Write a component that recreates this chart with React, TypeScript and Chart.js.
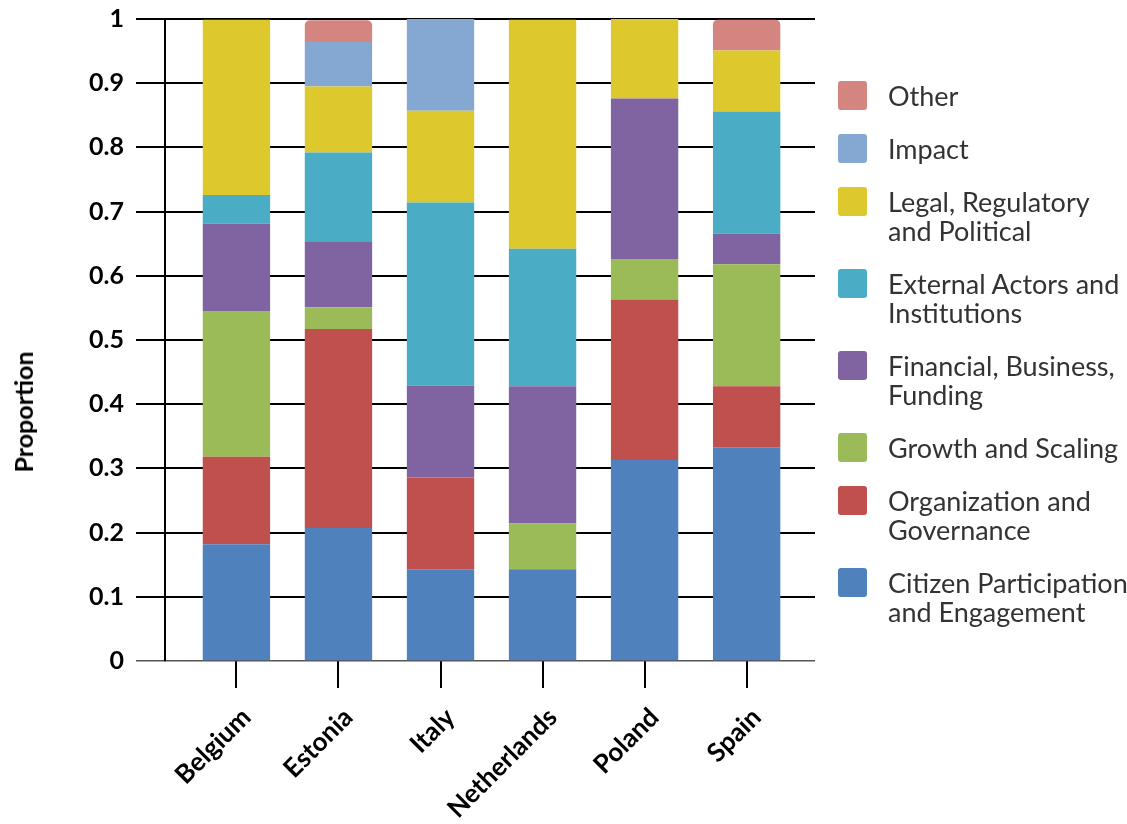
import React, { useEffect, useRef } from "react";
import { Chart, registerables } from "chart.js";

Chart.register(...registerables);

const countries = ["Belgium", "Estonia", "Italy", "Netherlands", "Poland", "Spain"];

const citizen = [0.182, 0.207, 0.143, 0.143, 0.313, 0.333];
const organization = [0.136, 0.31, 0.143, 0, 0.25, 0.095];
const growth = [0.227, 0.034, 0, 0.071, 0.063, 0.19];
const financial = [0.136, 0.103, 0.143, 0.214, 0.25, 0.048];
const external = [0.045, 0.138, 0.285, 0.214, 0, 0.19];
const legal = [0.273, 0.103, 0.143, 0.357, 0.124, 0.095];
const impact = [0, 0.069, 0.143, 0, 0, 0];
const other = [0, 0.034, 0, 0, 0, 0.048];

const seriesNames = [
  "Citizen Participation and Engagement",
  "Organization and Governance",
  "Growth and Scaling",
  "Financial, Business, Funding",
  "External Actors and Institutions",
  "Legal, Regulatory and Political",
  "Impact",
  "Other",
];
const seriesValues = [citizen, organization, growth, financial, external, legal, impact, other];
const seriesColors = ["#4F81BD", "#C0504D", "#9BBB59", "#8064A2", "#4BACC6", "#DDC92E", "#85A8D2", "#D48580"];

const yTicks = [0, 0.1, 0.2, 0.3, 0.4, 0.5, 0.6, 0.7, 0.8, 0.9, 1];

const FONT = "Lato, 'Open Sans', sans-serif";

export default function App() {
  const canvasRef = useRef<HTMLCanvasElement | null>(null);

  useEffect(() => {
    const canvas = canvasRef.current;
    if (!canvas) return;
    const datasets = seriesNames.map((name, i) => ({
      label: name,
      data: seriesValues[i].map((v, j) => ({ x: j, y: v })),
      backgroundColor: seriesColors[i],
      borderWidth: 0,
      borderRadius: name === "Other" ? { topLeft: 5, topRight: 5, bottomLeft: 0, bottomRight: 0 } : 0,
      borderSkipped: false as const,
      categoryPercentage: 1,
      barPercentage: 0.66,
    }));

    const chart = new Chart(canvas, {
      type: "bar",
      data: { datasets: datasets as any },
      options: {
        animation: false,
        responsive: true,
        maintainAspectRatio: false,
        layout: { padding: { left: 0, top: 19, right: 312, bottom: 0 } },
        plugins: {
          legend: { display: false },
          tooltip: { enabled: false },
        },
        scales: {
          x: {
            type: "linear",
            stacked: true,
            offset: false,
            min: -0.7,
            max: 5.67,
            afterFit: (s: any) => {
              s.height = 163;
              s.paddingLeft = 0;
              s.paddingRight = 0;
              s.paddingTop = 0;
              s.paddingBottom = 0;
            },
            ticks: {
              stepSize: 1,
              includeBounds: false,
              autoSkip: false,
              maxRotation: 45,
              minRotation: 45,
              padding: 14,
              labelOffset: 10,
              color: "#000",
              font: { family: FONT, size: 26, weight: "bold" },
              callback: (v: any) => countries[Number(v)] ?? "",
            },
            grid: {
              display: true,
              offset: false,
              drawOnChartArea: false,
              drawTicks: true,
              tickLength: 27,
              color: "#000",
              lineWidth: 2,
            },
            border: { display: false },
          },
          y: {
            type: "linear",
            stacked: true,
            min: 0,
            max: 1,
            afterFit: (s: any) => {
              s.width = 165;
              s.paddingTop = 0;
              s.paddingBottom = 0;
              s.paddingLeft = 0;
              s.paddingRight = 0;
            },
            afterBuildTicks: (s: any) => {
              s.ticks = yTicks.map((v) => ({ value: v }));
            },
            ticks: {
              padding: 12,
              color: "#000",
              font: { family: FONT, size: 25, weight: "bold" },
              callback: (v: any) => String(Math.round(Number(v) * 10) / 10),
            },
            grid: {
              color: (c: any) => (c.tick && c.tick.value === 0 ? "#555" : "#000"),
              lineWidth: (c: any) => (c.tick && c.tick.value === 0 ? 1.5 : 2),
              tickLength: 29,
              drawTicks: true,
            },
            border: { display: true, color: "#000", width: 2 },
          },
        },
      } as any,
    });
    return () => chart.destroy();
  }, []);

  const legendOrder = seriesNames.map((n, i) => i).reverse();

  return (
    <div style={{ position: "fixed", left: 0, top: 0, width: 1127, height: 824, background: "#fff" }}>
      <div style={{ position: "absolute", left: 0, top: 0, width: 1127, height: 824 }}>
        <canvas ref={canvasRef} />
      </div>
      <div
        style={{
          position: "absolute",
          left: 23,
          top: 412,
          transform: "translate(-50%, -50%) rotate(-90deg)",
          whiteSpace: "nowrap",
          fontFamily: FONT,
          fontWeight: 700,
          fontSize: 25,
          color: "#000",
        }}
      >
        Proportion
      </div>
      <div style={{ position: "absolute", left: 838, top: 81 }}>
        {legendOrder.map((i) => (
          <div key={seriesNames[i]} style={{ display: "flex", alignItems: "flex-start", marginBottom: 24 }}>
            <div
              style={{
                width: 29,
                height: 29,
                borderRadius: 3,
                background: seriesColors[i],
                flex: "0 0 auto",
                marginRight: 21,
              }}
            />
            <div
              style={{
                width: 240,
                fontFamily: FONT,
                fontSize: 27,
                lineHeight: "29px",
                color: "#333",
              }}
            >
              {seriesNames[i]}
            </div>
          </div>
        ))}
      </div>
    </div>
  );
}
